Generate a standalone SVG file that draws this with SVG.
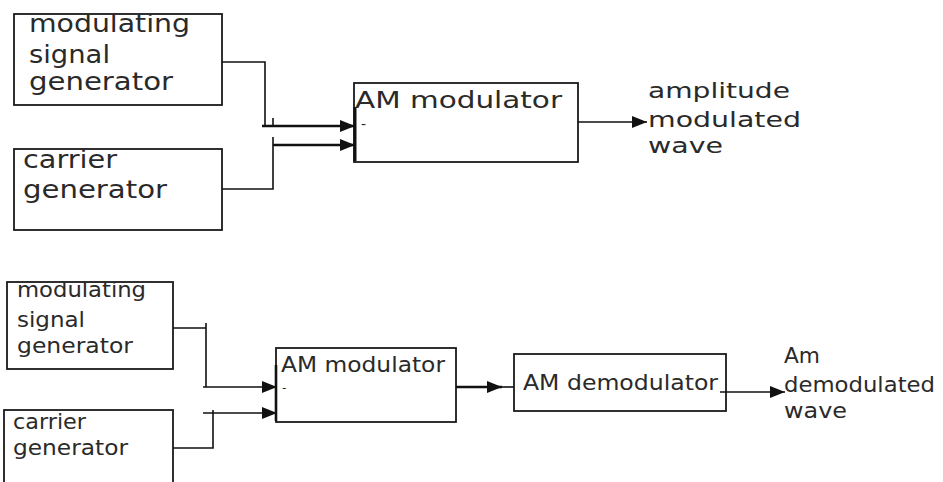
<svg xmlns="http://www.w3.org/2000/svg" width="943" height="482" viewBox="0 0 943 482">
<style>
.box{fill:none;stroke:#1a1a1a;stroke-width:1.8}
.t{font-family:"DejaVu Sans","Liberation Sans",sans-serif;fill:#2a2a2a}
.c{fill:none;stroke:#111;stroke-width:1.6}
.thick{fill:none;stroke:#111;stroke-width:2.6}
</style>
<defs>
<marker id="ah" markerUnits="userSpaceOnUse" markerWidth="16" markerHeight="12" refX="15" refY="6" orient="auto">
<path d="M0,0 L15,6 L0,12 z" fill="#111"/>
</marker>
<clipPath id="cp1"><rect x="14" y="14" width="208" height="91"/></clipPath>
<clipPath id="cp2"><rect x="7" y="282" width="166" height="87"/></clipPath>
</defs>
<rect width="943" height="482" fill="#fff"/>

<g id="top-mod-gen">
<rect class="box" x="14" y="14" width="208" height="91"/>
<g clip-path="url(#cp1)">
<text class="t" font-size="24" x="29" y="32" textLength="161" lengthAdjust="spacingAndGlyphs">modulating</text>
<text class="t" font-size="24" x="29" y="63" textLength="81" lengthAdjust="spacingAndGlyphs">signal</text>
<text class="t" font-size="24" x="29" y="90" textLength="144" lengthAdjust="spacingAndGlyphs">generator</text>
</g>
</g>

<g id="top-carrier-gen">
<rect class="box" x="14" y="149" width="208" height="81"/>
<text class="t" font-size="24" x="23" y="168" textLength="94" lengthAdjust="spacingAndGlyphs">carrier</text>
<text class="t" font-size="24" x="23" y="198" textLength="144" lengthAdjust="spacingAndGlyphs">generator</text>
</g>

<g id="top-am-mod">
<rect class="box" x="354" y="83" width="224" height="79"/>
<line x1="355" y1="107" x2="355" y2="161" stroke="#111" stroke-width="3"/>
<text class="t" font-size="23" x="355" y="108" textLength="207" lengthAdjust="spacingAndGlyphs">AM modulator</text>
<text class="t" font-size="14" x="361" y="129">-</text>
</g>

<g id="top-output-label">
<text class="t" font-size="22" x="648" y="98" textLength="142" lengthAdjust="spacingAndGlyphs">amplitude</text>
<text class="t" font-size="22" x="648" y="127" textLength="153" lengthAdjust="spacingAndGlyphs">modulated</text>
<text class="t" font-size="22" x="648" y="153" textLength="75" lengthAdjust="spacingAndGlyphs">wave</text>
</g>

<g id="bot-mod-gen">
<rect class="box" x="7" y="282" width="166" height="87"/>
<g clip-path="url(#cp2)">
<text class="t" font-size="21" x="17" y="297" textLength="129" lengthAdjust="spacingAndGlyphs">modulating</text>
<text class="t" font-size="21" x="17" y="327" textLength="68" lengthAdjust="spacingAndGlyphs">signal</text>
<text class="t" font-size="21" x="17" y="353" textLength="116" lengthAdjust="spacingAndGlyphs">generator</text>
</g>
</g>

<g id="bot-carrier-gen">
<rect class="box" x="4" y="410" width="169" height="90"/>
<text class="t" font-size="21" x="13" y="429" textLength="73" lengthAdjust="spacingAndGlyphs">carrier</text>
<text class="t" font-size="21" x="13" y="455" textLength="115" lengthAdjust="spacingAndGlyphs">generator</text>
</g>

<g id="bot-am-mod">
<rect class="box" x="276" y="348" width="180" height="74"/>
<line x1="276" y1="365" x2="276" y2="421" stroke="#111" stroke-width="2.6"/>
<text class="t" font-size="21" x="281" y="372" textLength="164" lengthAdjust="spacingAndGlyphs">AM modulator</text>
<text class="t" font-size="12" x="282" y="392">-</text>
</g>

<g id="bot-am-demod">
<rect class="box" x="514" y="354" width="212" height="57"/>
<text class="t" font-size="21" x="523" y="390" textLength="195" lengthAdjust="spacingAndGlyphs">AM demodulator</text>
</g>

<g id="bot-output-label">
<text class="t" font-size="21" x="784" y="363" textLength="36" lengthAdjust="spacingAndGlyphs">Am</text>
<text class="t" font-size="21" x="784" y="392" textLength="151" lengthAdjust="spacingAndGlyphs">demodulated</text>
<text class="t" font-size="21" x="784" y="418" textLength="63" lengthAdjust="spacingAndGlyphs">wave</text>
</g>

<g id="connectors">
<path class="c" d="M222,62 H265 V126"/>
<path class="thick" d="M262,126 H355" marker-end="url(#ah)"/>
<line class="c" x1="273" y1="118" x2="273" y2="126"/>
<path class="c" d="M222,189 H273 V137"/>
<path class="thick" d="M273,145 H355" marker-end="url(#ah)"/>
<path class="c" d="M578,122 H647" marker-end="url(#ah)"/>

<path class="c" d="M173,328 H206 M206,323 V387"/>
<path class="c" d="M203,387 H277" marker-end="url(#ah)"/>
<path class="c" d="M173,448 H213 V410"/>
<path class="c" d="M203,413 H277" marker-end="url(#ah)"/>
<path class="thick" d="M456,387 H502" marker-end="url(#ah)"/>
<line class="c" x1="500" y1="387" x2="514" y2="387"/>
<path class="c" d="M720,392 H785" marker-end="url(#ah)"/>
</g>
</svg>
